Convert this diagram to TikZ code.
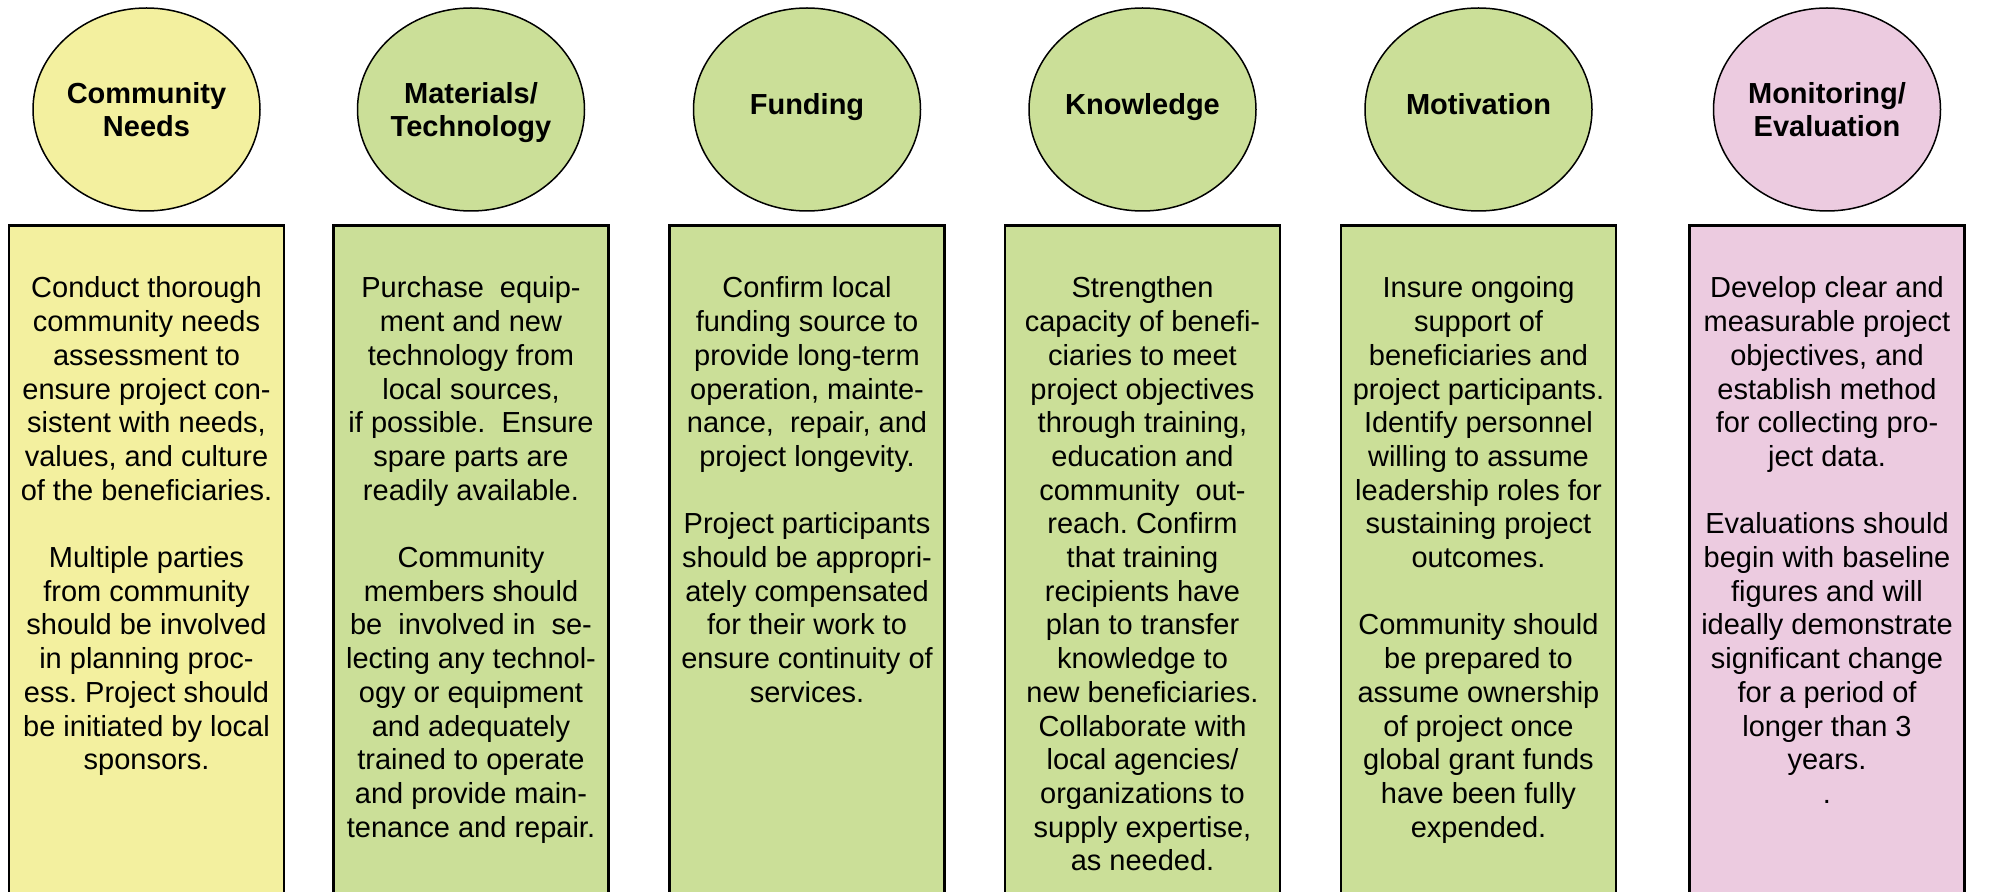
\documentclass[tikz,border=0pt]{standalone}
\usepackage{fontspec}
\setmainfont{Liberation Sans}
\usetikzlibrary{shapes.geometric}
\definecolor{needsyellow}{HTML}{F3F09F}
\definecolor{plangreen}{HTML}{CBDF98}
\definecolor{evalpink}{HTML}{ECCBE0}
\tikzset{
  topic/.style={draw,ellipse,line width=0.75pt,inner sep=0pt,minimum width=113.5pt,minimum height=101.5pt},
  headtext/.style={inner sep=0pt,align=center,font=\bfseries\fontsize{14.5}{16.85}\selectfont},
  column/.style={draw,rectangle,line width=1.3pt,anchor=north,inner sep=0pt,minimum width=137.5pt,minimum height=340pt},
  bodytext/.style={anchor=north,inner sep=0pt,align=center,font=\frenchspacing\fontsize{14.5}{16.85}\selectfont},
}
\begin{document}
\frenchspacing
\begin{tikzpicture}[x=0.5pt,y=-0.5pt]
\useasboundingbox(0,0)rectangle(1993,892);
\pgfmathsetmacro{\kcy}{109.5}
\pgfmathsetmacro{\ktop}{224}
\pgfmathsetmacro{\ktxt}{274}
\def\kgap{\\[16.85pt]}
% heading ellipses and column boxes
\foreach \kn/\kx/\kcol/\kdy/\khead in {1/146.5/needsyellow/-1.85/{\strut Community\\\strut Needs},2/471/plangreen/-1.85/{\strut Materials/\\\strut Technology},3/807/plangreen/0.8/{\strut Funding},4/1142.5/plangreen/0.8/{\strut Knowledge},5/1478.5/plangreen/0.8/{\strut Motivation},6/1827/evalpink/-1.85/{\strut Monitoring/\\\strut Evaluation}}{
  \draw(\kx,\kcy)node[topic,fill=\kcol](c\kn){};
  \draw(c\kn.center)node[headtext,yshift=\kdy pt](h\kn){\khead};
  \draw(\kx,\ktop)node[column,fill=\kcol](k\kn){};
}
\draw(146.5,\ktxt)node[bodytext](b1){\strut Conduct thorough\\community needs\\assessment to\\ensure project con-\\sistent with needs,\\values, and culture\\of the beneficiaries.\kgap Multiple parties\\from community\\should be involved\\in planning proc-\\ess. Project should\\be initiated by local\\sponsors.};
\draw(471,\ktxt)node[bodytext](b2){\strut Purchase\ \ equip-\\ment and new\\technology from\\local sources,\\if possible.\ \ Ensure\\spare parts are\\readily available.\kgap Community\\members should\\be\ \ involved in\ \ se-\\lecting any technol-\\ogy or equipment\\and adequately\\trained to operate\\and provide main-\\tenance and repair.};
\draw(807,\ktxt)node[bodytext](b3){\strut Confirm local\\funding source to\\provide long-term\\operation, mainte-\\nance,\ \ repair, and\\project longevity.\kgap Project participants\\should be appropri-\\ately compensated\\for their work to\\ensure continuity of\\services.};
\draw(1142.5,\ktxt)node[bodytext](b4){\strut Strengthen\\capacity of benefi-\\ciaries to meet\\project objectives\\through training,\\education and\\community\ \ out-\\reach. Confirm\\that training\\recipients have\\plan to transfer\\knowledge to\\new beneficiaries.\\Collaborate with\\local agencies/\\organizations to\\supply expertise,\\as needed.};
\draw(1478.5,\ktxt)node[bodytext](b5){\strut Insure ongoing\\support of\\beneficiaries and\\project participants.\\Identify personnel\\willing to assume\\leadership roles for\\sustaining project\\outcomes.\kgap Community should\\be prepared to\\assume ownership\\of project once\\global grant funds\\have been fully\\expended.};
\draw(1827,\ktxt)node[bodytext](b6){\strut Develop clear and\\measurable project\\objectives, and\\establish method\\for collecting pro-\\ject data.\kgap Evaluations should\\begin with baseline\\figures and will\\ideally demonstrate\\significant change\\for a period of\\longer than 3\\years.\\.};
\end{tikzpicture}
\end{document}
